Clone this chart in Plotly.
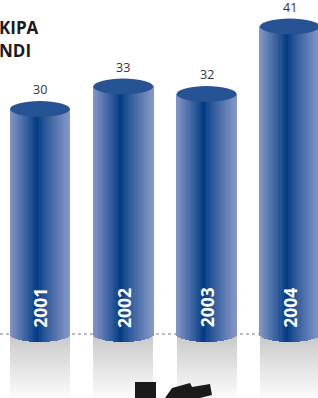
import numpy as np
import plotly.graph_objects as go

years = ["2001", "2002", "2003", "2004"]
values = [30, 33, 32, 41]
title_lines = ["KIPA", "NDI"]

# geometry (data units)
bar_w = 0.72
ell_h = 1.05          # half height of ellipses in y units
y_min, y_max = -8.53, 44.53
x_min, x_max = -0.48, 3.337
n_strips = 48

def lerp(a, b, t):
    return tuple(a[i] + (b[i] - a[i]) * t for i in range(3))

light_l = (132, 150, 198)
light_r = (134, 152, 200)
dark = (0, 58, 130)

def grad(t):
    c0 = 0.46
    if t < c0:
        s = (c0 - t) / c0
        return lerp(dark, light_l, s ** 0.9)
    s = (t - c0) / (1 - c0)
    return lerp(dark, light_r, s ** 0.85)

xs = list(range(len(years)))
fig = go.Figure()

# reflection (grey fading bands below the baseline)
n_bands = 20
for k in range(n_bands):
    top = -k * (-y_min) / n_bands
    bot = -(k + 1) * (-y_min) / n_bands
    g = int(200 + (250 - 200) * (k / (n_bands - 1)) ** 0.9)
    fig.add_trace(go.Bar(
        x=xs, y=[top - bot] * len(xs), base=[bot] * len(xs),
        width=bar_w, marker=dict(color=f"rgb({g},{g},{g})", line=dict(width=0)),
        hoverinfo="skip", showlegend=False))

# cylinder bodies built from vertical strips
sw = bar_w / n_strips
for k in range(n_strips):
    t = (k + 0.5) / n_strips
    u = 2 * t - 1
    base = -ell_h * np.sqrt(max(0.0, 1 - u * u))
    r, g, b = grad(t)
    fig.add_trace(go.Bar(
        x=xs, y=[v - base for v in values], base=[base] * len(xs),
        width=sw * 1.08, offset=-bar_w / 2 + k * sw,
        marker=dict(color=f"rgb({r:.0f},{g:.0f},{b:.0f})", line=dict(width=0)),
        hoverinfo="skip", showlegend=False))

shapes = [dict(type="line", xref="paper", yref="y", x0=0, x1=1, y0=0, y1=0,
               line=dict(color="#a8a8a8", width=1.5, dash="dot"), layer="below")]
for x, v in zip(xs, values):
    shapes.append(dict(type="circle", xref="x", yref="y",
                       x0=x - bar_w / 2, x1=x + bar_w / 2,
                       y0=v - ell_h, y1=v + ell_h,
                       fillcolor="#265393", line=dict(width=0), layer="above"))

# decorative black fragment at the bottom
shapes.append(dict(type="rect", xref="paper", yref="paper",
                   x0=135 / 318, x1=156 / 318, y0=0, y1=16 / 398,
                   fillcolor="#1a1a1a", line=dict(width=0)))
pts = [(165, 398), (172, 388), (190, 383), (192, 387), (210, 384), (212, 395), (200, 398)]
path = "M " + " L ".join(f"{px / 318:.4f},{1 - py / 398:.4f}" for px, py in pts) + " Z"
shapes.append(dict(type="path", xref="paper", yref="paper", path=path,
                   fillcolor="#1a1a1a", line=dict(width=0)))

annotations = []
for x, v, yr in zip(xs, values, years):
    annotations.append(dict(x=x, y=v + ell_h, xref="x", yref="y", text=str(v),
                            showarrow=False, yanchor="bottom", yshift=1,
                            font=dict(family="Open Sans", size=12.5, color="#333333")))
    annotations.append(dict(x=x, y=3.5, xref="x", yref="y", text=f"<b>{yr}</b>",
                            showarrow=False, textangle=-90,
                            xanchor="center", yanchor="middle",
                            font=dict(family="Open Sans", size=17.5, color="white")))

annotations.append(dict(x=0, y=1 - 28 / 398, xref="paper", yref="paper",
                        text=f"<b>{title_lines[0]}</b>", showarrow=False,
                        xanchor="left", yanchor="middle", xshift=-3,
                        font=dict(family="Open Sans", size=17, color="#1a1a1a")))
annotations.append(dict(x=0, y=1 - 51 / 398, xref="paper", yref="paper",
                        text=f"<b>{title_lines[1]}</b>", showarrow=False,
                        xanchor="left", yanchor="middle", xshift=-3,
                        font=dict(family="Open Sans", size=17, color="#1a1a1a")))

fig.update_layout(
    width=318, height=398, margin=dict(l=0, r=0, t=0, b=0),
    barmode="overlay", bargap=0,
    paper_bgcolor="white", plot_bgcolor="white",
    xaxis=dict(range=[x_min, x_max], visible=False, fixedrange=True),
    yaxis=dict(range=[y_min, y_max], visible=False, fixedrange=True),
    shapes=shapes, annotations=annotations, showlegend=False,
)

fig.write_html("out.html", config={"displayModeBar": False},
               post_script="document.body.style.margin='0';document.body.style.overflow='hidden';")
